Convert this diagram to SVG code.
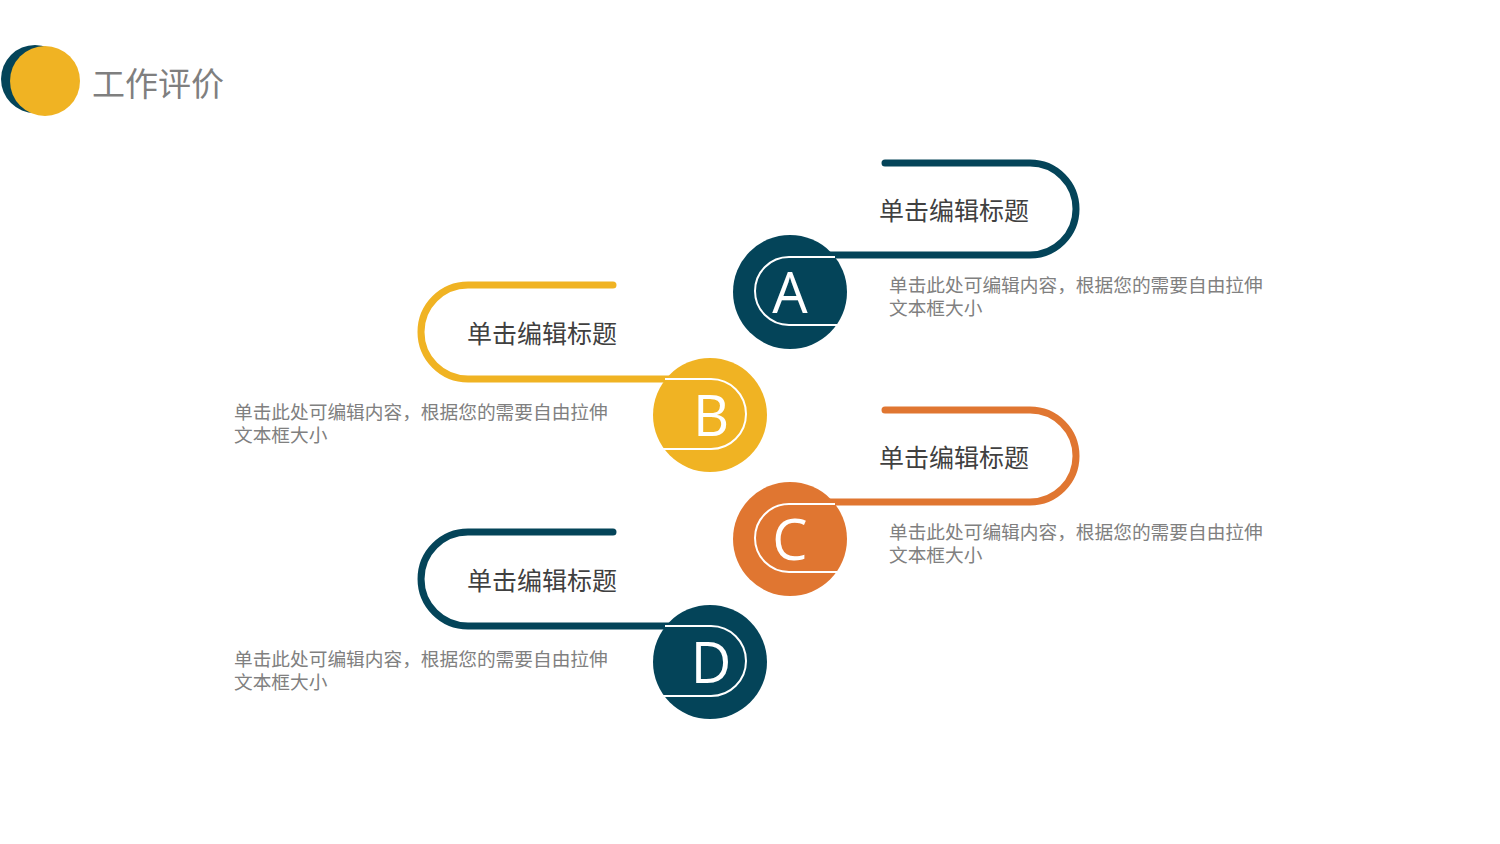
<svg xmlns="http://www.w3.org/2000/svg" width="1500" height="844" viewBox="0 0 1500 844">
<style>
.track{fill:none;stroke-width:7;stroke-linecap:round}
.inner{fill:none;stroke:#fff;stroke-width:2}
.letter{font-family:"Open Sans","Liberation Sans",sans-serif;font-size:56px;fill:#fff;text-anchor:middle}
.title{font-family:"Noto Sans CJK SC","Noto Sans",sans-serif;font-size:25px;fill:#404040}
.desc{font-family:"Noto Sans CJK SC","Noto Sans",sans-serif;font-size:18.7px;fill:#808080}
.teal{fill:#044459}.yellow{fill:#F0B323}.orange{fill:#E07631}
</style>
<rect width="1500" height="844" fill="#fff"/>
<g id="header">
<circle cx="35" cy="79" r="34" class="teal"/>
<circle cx="45" cy="81" r="35" class="yellow"/>
<text x="92" y="96" font-family="Noto Sans CJK SC,Noto Sans,sans-serif" font-size="33" fill="#7f7f7f">工作评价</text>
</g>
<g id="connectors">
<path class="track" stroke="#044459" d="M885 163 H1030 A46 46 0 0 1 1030 255 H800"/>
<path class="track" stroke="#F0B323" d="M613 285 H468 A47 47 0 0 0 468 379 H700"/>
<path class="track" stroke="#E07631" d="M885 410 H1030 A46 46 0 0 1 1030 502 H800"/>
<path class="track" stroke="#044459" d="M613 532 H468 A47 47 0 0 0 468 626 H700"/>
</g>
<g id="nodeA">
<circle cx="790" cy="292" r="57" class="teal"/>
<path class="inner" d="M835 257 H789 A34 34 0 0 0 789 325 H837"/>
<text x="790" y="313" class="letter">A</text>
<text x="879" y="220" class="title">单击编辑标题</text>
<text x="889" y="292" class="desc">单击此处可编辑内容，根据您的需要自由拉伸</text>
<text x="889" y="315" class="desc">文本框大小</text>
</g>
<g id="nodeB">
<circle cx="710" cy="415" r="57" class="yellow"/>
<path class="inner" d="M665 379 H711 A35 35 0 0 1 711 449 H663"/>
<text x="711" y="436" class="letter">B</text>
<text x="467" y="343" class="title">单击编辑标题</text>
<text x="234" y="419" class="desc">单击此处可编辑内容，根据您的需要自由拉伸</text>
<text x="234" y="442" class="desc">文本框大小</text>
</g>
<g id="nodeC">
<circle cx="790" cy="539" r="57" class="orange"/>
<path class="inner" d="M835 504 H789 A34 34 0 0 0 789 572 H837"/>
<text x="790" y="560" class="letter">C</text>
<text x="879" y="467" class="title">单击编辑标题</text>
<text x="889" y="539" class="desc">单击此处可编辑内容，根据您的需要自由拉伸</text>
<text x="889" y="562" class="desc">文本框大小</text>
</g>
<g id="nodeD">
<circle cx="710" cy="662" r="57" class="teal"/>
<path class="inner" d="M665 626 H711 A35 35 0 0 1 711 696 H663"/>
<text x="711" y="683" class="letter">D</text>
<text x="467" y="590" class="title">单击编辑标题</text>
<text x="234" y="666" class="desc">单击此处可编辑内容，根据您的需要自由拉伸</text>
<text x="234" y="689" class="desc">文本框大小</text>
</g>
</svg>
